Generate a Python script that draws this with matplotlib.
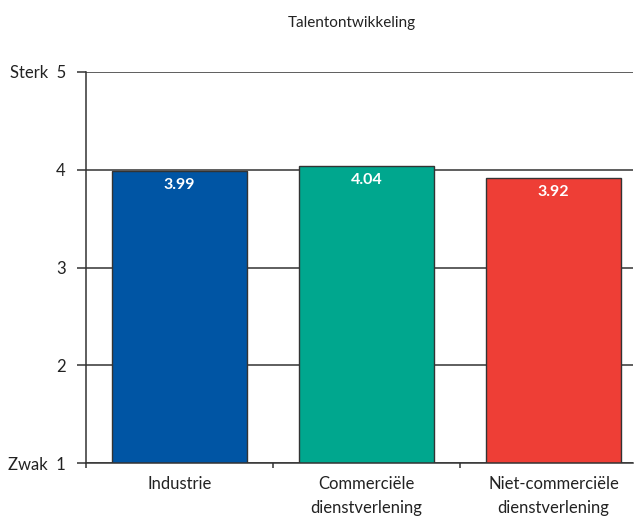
import numpy as np
import matplotlib
matplotlib.use("Agg")
import matplotlib.pyplot as plt

plt.rcParams['font.family'] = ['Lato', 'DejaVu Sans']

# data
categories = ['Industrie', 'Commerciële\ndienstverlening', 'Niet-commerciële\ndienstverlening']
values = [3.99, 4.04, 3.92]
colors = ['#0055a4', '#00a78e', '#ee3e36']
yticks = [1, 2, 3, 4, 5]
ytick_labels = ['Zwak  1', '2', '3', '4', 'Sterk  5']
title = 'Talentontwikkeling'

fig = plt.figure(figsize=(6.37, 5.17), dpi=100)
ax = fig.add_axes([86/637, 1-463/517, 547/637, 391/517])

x = np.arange(len(categories))
bars = ax.bar(x, values, width=0.722, color=colors, edgecolor='#333333',
              linewidth=1.0, bottom=0, zorder=2)

ax.set_ylim(1, 5)
ax.set_xlim(-0.5, 2.425)

ax.set_yticks(yticks)
ax.set_yticklabels(ytick_labels, fontsize=12, color='#222222')
ax.yaxis.grid(True, color='#333333', linewidth=1.1, zorder=0)
ax.set_axisbelow(True)
ax.tick_params(axis='y', length=6.5, width=1.1, color='#333333', pad=8)

# category labels at centres, tick marks at boundaries
ax.set_xticks(x)
ax.set_xticklabels(categories, fontsize=12, color='#222222', linespacing=1.6)
ax.tick_params(axis='x', which='major', length=0, pad=9.5)
ax.set_xticks([-0.5, 0.5, 1.5], minor=True)
ax.tick_params(axis='x', which='minor', length=3.5, width=1.1, color='#333333')

for s in ['top', 'right']:
    ax.spines[s].set_visible(False)
for s in ['left', 'bottom']:
    ax.spines[s].set_color('#333333')
    ax.spines[s].set_linewidth(1.1)

for b, v in zip(bars, values):
    ax.annotate(f'{v:.2f}', (b.get_x() + b.get_width()/2, v),
                xytext=(0, -5.5), textcoords='offset points',
                ha='center', va='top', color='white', fontsize=11.5,
                fontweight='bold', zorder=3)

fig.text(352/637, 1-23/517, title, ha='center', va='center',
         fontsize=11, color='#222222')

fig.savefig('out.png', dpi=100)
